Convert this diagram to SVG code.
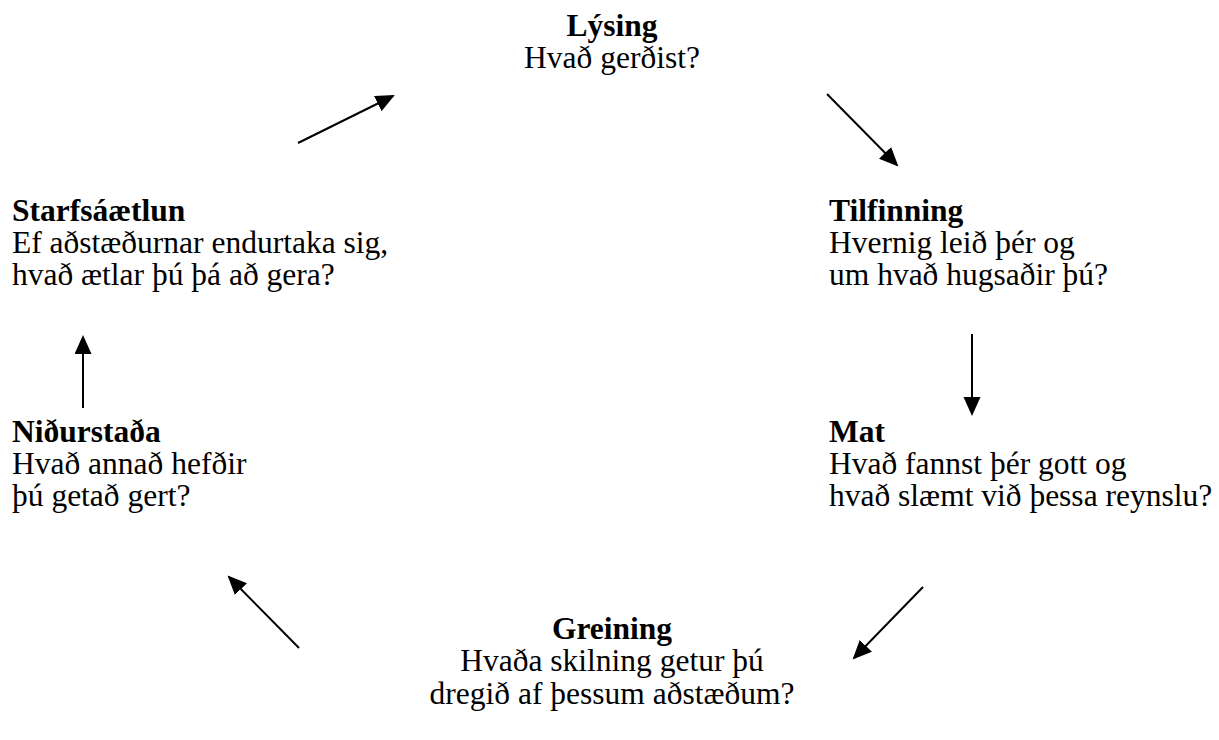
<svg xmlns="http://www.w3.org/2000/svg" width="1219" height="740" viewBox="0 0 1219 740">
<style>
text{font-family:'Liberation Serif','Times New Roman',serif;font-size:31.5px;fill:#000}
.b{font-weight:bold}
.c{text-anchor:middle}
.ln{stroke:#000;stroke-width:2;fill:none;marker-end:url(#ah)}
</style>
<defs>
<marker id="ah" markerUnits="userSpaceOnUse" markerWidth="20" markerHeight="18" refX="17" refY="8.5" orient="auto">
<path d="M0,0 L19,8.5 L0,17 z" fill="#000"/>
</marker>
</defs>
<rect width="1219" height="740" fill="#fff"/>
<g id="lysing">
<text class="b c" x="612" y="36">Lýsing</text>
<text class="c" x="612" y="68">Hvað gerðist?</text>
</g>
<g id="tilfinning">
<text class="b" x="829" y="221">Tilfinning</text>
<text x="829" y="253">Hvernig leið þér og</text>
<text x="829" y="285">um hvað hugsaðir þú?</text>
</g>
<g id="mat">
<text class="b" x="829" y="442">Mat</text>
<text x="829" y="474">Hvað fannst þér gott og</text>
<text x="829" y="506">hvað slæmt við þessa reynslu?</text>
</g>
<g id="greining">
<text class="b c" x="612" y="639">Greining</text>
<text class="c" x="612" y="671">Hvaða skilning getur þú</text>
<text class="c" x="612" y="704">dregið af þessum aðstæðum?</text>
</g>
<g id="nidurstada">
<text class="b" x="12" y="442">Niðurstaða</text>
<text x="12" y="474">Hvað annað hefðir</text>
<text x="12" y="506">þú getað gert?</text>
</g>
<g id="starfsaaetlun">
<text class="b" x="12" y="221">Starfsáætlun</text>
<text x="12" y="253">Ef aðstæðurnar endurtaka sig,</text>
<text x="12" y="285">hvað ætlar þú þá að gera?</text>
</g>
<g id="connectors">
<line class="ln" x1="298" y1="143" x2="393" y2="96"/>
<line class="ln" x1="827" y1="94" x2="897" y2="165"/>
<line class="ln" x1="972" y1="334" x2="972" y2="414"/>
<line class="ln" x1="923" y1="587" x2="854" y2="658"/>
<line class="ln" x1="299" y1="648" x2="229" y2="577"/>
<line class="ln" x1="83" y1="408" x2="83" y2="337"/>
</g>
</svg>
